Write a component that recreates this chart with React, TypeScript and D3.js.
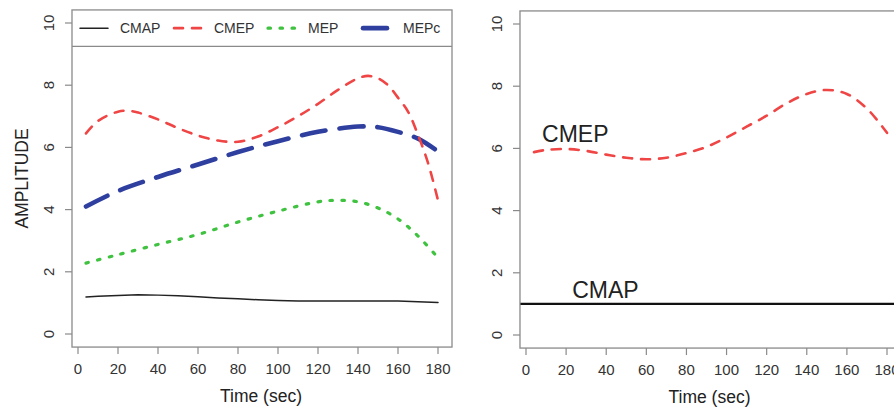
import React from 'react'
import * as d3 from 'd3'

// time points (sec) and amplitudes
const timeL = [4, 10, 20, 30, 40, 50, 60, 70, 80, 90, 100, 110, 120, 130, 140, 150, 160, 170, 180]
const cmapL = [1.19, 1.21, 1.24, 1.26, 1.25, 1.23, 1.2, 1.16, 1.13, 1.1, 1.08, 1.06, 1.06, 1.06, 1.06, 1.06, 1.06, 1.04, 1.01]

const timeCmep = [4, 10, 20, 25, 30, 40, 50, 60, 70, 80, 90, 100, 110, 120, 130, 140, 145, 150, 155, 160, 165, 170, 175, 180]
const cmepL = [6.45, 6.85, 7.15, 7.18, 7.12, 6.9, 6.62, 6.38, 6.22, 6.18, 6.35, 6.65, 7.0, 7.4, 7.85, 8.22, 8.3, 8.22, 8.0, 7.6, 7.15, 6.4, 5.5, 4.3]

const timeMepc = [4, 20, 40, 60, 80, 100, 120, 140, 150, 160, 170, 180]
const mepc = [4.1, 4.6, 5.05, 5.45, 5.85, 6.2, 6.5, 6.67, 6.65, 6.5, 6.28, 5.87]

const timeMep = [4, 20, 40, 60, 80, 100, 120, 130, 140, 150, 160, 170, 180]
const mep = [2.28, 2.55, 2.88, 3.2, 3.6, 3.95, 4.25, 4.3, 4.25, 4.05, 3.7, 3.15, 2.45]

const timeR = [4, 10, 20, 30, 40, 50, 60, 70, 80, 90, 100, 110, 120, 130, 140, 150, 160, 170, 180]
const cmepR = [5.88, 5.95, 5.98, 5.92, 5.8, 5.7, 5.65, 5.7, 5.85, 6.05, 6.35, 6.7, 7.05, 7.45, 7.75, 7.88, 7.75, 7.28, 6.5]
const cmapLevelR = 1

const xTicks = [0, 20, 40, 60, 80, 100, 120, 140, 160, 180]
const yTicks = [0, 2, 4, 6, 8, 10]
const legendNames = ['CMAP', 'CMEP', 'MEP', 'MEPc']

const FONT = 'Liberation Sans, Arial, sans-serif'
const RED = '#f04545'
const GREEN = '#3fc23f'
const BLUE = '#2f3f9f'
const BLACK = '#222'
const GRAY = '#8a8a8a'

const styles: Record<string, any> = {
  CMAP: { stroke: BLACK, width: 1.5, dash: null },
  CMEP: { stroke: RED, width: 2.6, dash: '9,9' },
  MEP: { stroke: GREEN, width: 3.2, dash: '2.5,9.5' },
  MEPc: { stroke: BLUE, width: 4.6, dash: '24,14' },
}

const zip = (t: number[], v: number[]) => t.map((d, i) => [d, v[i]] as [number, number])

function Panel({ x0, x1, y0, y1, children }: any) {
  const x = d3.scaleLinear().domain([0, 180]).range([x0, x1])
  const y = d3.scaleLinear().domain([0, 10]).range([y0, y1])
  const left = x(-3), right = x(187), top = y(10.42), bottom = y(-0.42)
  return (
    <g>
      {children(x, y, { left, right, top, bottom })}
      <rect x={left} y={top} width={right - left} height={bottom - top} fill="none" stroke={GRAY} strokeWidth={1.3} />
      {xTicks.map(t => (
        <g key={'x' + t}>
          <line x1={x(t)} x2={x(t)} y1={bottom} y2={bottom + 7} stroke={GRAY} strokeWidth={1.2} />
          <text x={x(t)} y={bottom + 27} textAnchor="middle" fontSize={15} fill="#333" fontFamily={FONT}>{t}</text>
        </g>
      ))}
      {yTicks.map(v => (
        <g key={'y' + v}>
          <line x1={left - 7} x2={left} y1={y(v)} y2={y(v)} stroke={GRAY} strokeWidth={1.2} />
          <text transform={`translate(${left - 23},${y(v)}) rotate(-90)`} textAnchor="middle" dy="0.35em" fontSize={15} fill="#333" fontFamily={FONT}>{v}</text>
        </g>
      ))}
      <text x={(left + right) / 2 - 1} y={bottom + 55} textAnchor="middle" fontSize={17.5} fill="#222" fontFamily={FONT}>Time (sec)</text>
    </g>
  )
}

export default function App() {
  const smooth = (x: any, y: any) => d3.line<[number, number]>().x(d => x(d[0])).y(d => y(d[1])).curve(d3.curveCatmullRom)
  const straight = (x: any, y: any) => d3.line<[number, number]>().x(d => x(d[0])).y(d => y(d[1]))

  const seriesPath = (d: string | null, name: string) => {
    const s = styles[name]
    return <path d={d || ''} fill="none" stroke={s.stroke} strokeWidth={s.width} strokeDasharray={s.dash || undefined} strokeLinecap="round" strokeLinejoin="round" />
  }

  return (
    <svg width={894} height={407} style={{ position: 'absolute', left: 0, top: 0, background: '#fff' }}>
      <Panel x0={78} x1={438} y0={334} y1={23}>
        {(x: any, y: any, box: any) => {
          const legendY = (box.top + y(9.25)) / 2
          const slots = [80, 174, 268, 363]
          return (
            <g>
              {seriesPath(straight(x, y)(zip(timeL, cmapL)), 'CMAP')}
              {seriesPath(smooth(x, y)(zip(timeMep, mep)), 'MEP')}
              {seriesPath(smooth(x, y)(zip(timeMepc, mepc)), 'MEPc')}
              {seriesPath(smooth(x, y)(zip(timeCmep, cmepL)), 'CMEP')}
              <line x1={box.left} x2={box.right} y1={y(9.25)} y2={y(9.25)} stroke={GRAY} strokeWidth={1.3} />
              {legendNames.map((n, i) => {
                const s = styles[n]
                return (
                  <g key={n}>
                    <line x1={slots[i]} x2={slots[i] + 28} y1={legendY} y2={legendY} stroke={s.stroke} strokeWidth={s.width} strokeDasharray={s.dash || undefined} strokeLinecap="round" />
                    <text x={slots[i] + 40} y={legendY} dy="0.35em" fontSize={14} fill="#333" fontFamily={FONT}>{n}</text>
                  </g>
                )
              })}
              <text transform={`translate(22,${(box.top + box.bottom) / 2}) rotate(-90)`} textAnchor="middle" dy="0.35em" fontSize={17.5} fill="#222" fontFamily={FONT}>AMPLITUDE</text>
            </g>
          )
        }}
      </Panel>
      <Panel x0={526} x1={887} y0={335} y1={24}>
        {(x: any, y: any, box: any) => (
          <g>
            <line x1={box.left} x2={box.right} y1={y(cmapLevelR)} y2={y(cmapLevelR)} stroke="#111" strokeWidth={2.2} />
            {seriesPath(smooth(x, y)(zip(timeR, cmepR)), 'CMEP')}
            <text x={x(23)} y={y(cmapLevelR) - 6} fontSize={23} fill="#222" fontFamily={FONT}>CMAP</text>
            <text x={x(8)} y={y(6.05) - 5} fontSize={23} fill="#222" fontFamily={FONT}>CMEP</text>
          </g>
        )}
      </Panel>
    </svg>
  )
}
